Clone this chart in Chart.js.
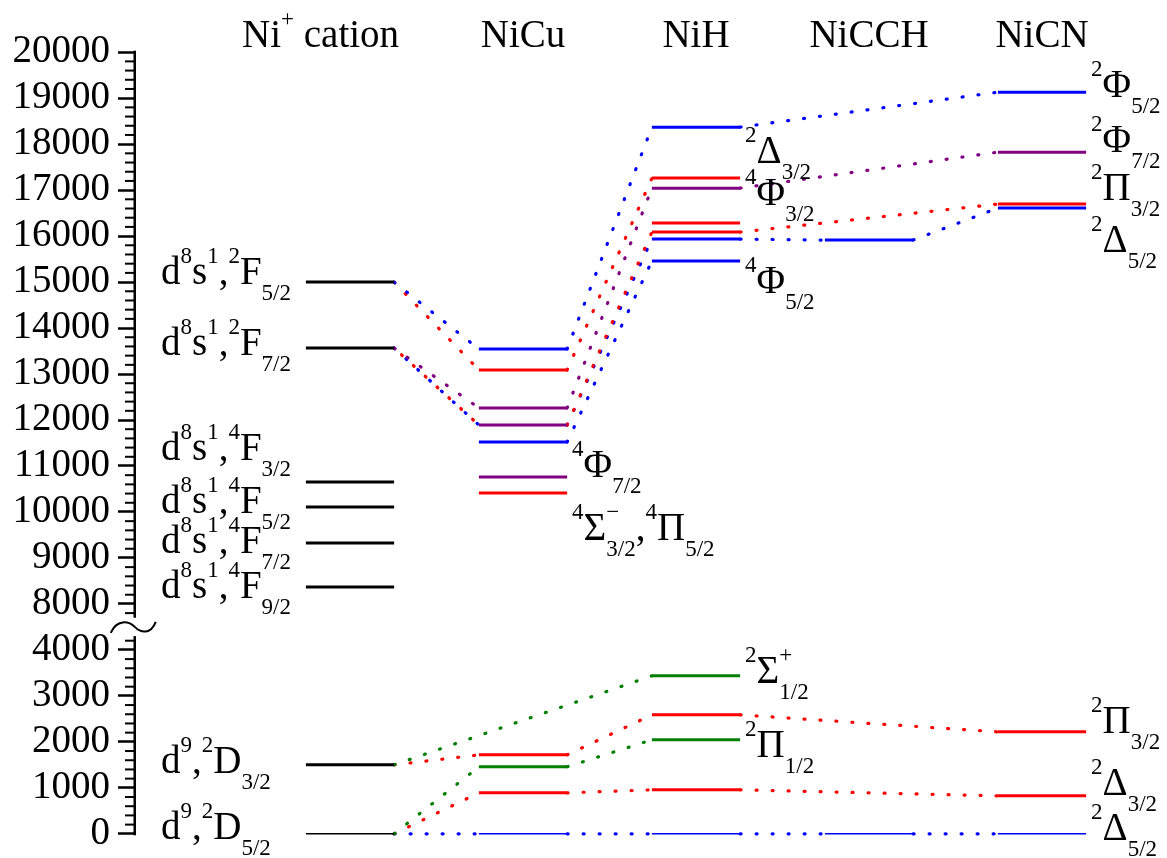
<!DOCTYPE html>
<html>
<head>
<meta charset="utf-8">
<script src="https://cdn.jsdelivr.net/npm/chart.js@4.4.1/dist/chart.umd.min.js"></script>
<style>
  html, body { margin: 0; padding: 0; background: #ffffff; }
  #c { display: block; }
</style>
</head>
<body>
<canvas id="c" width="1167" height="858"></canvas>
<script>
// ---------------------------------------------------------------
// Term energies (cm^-1) and Omega of each level, per species
// ---------------------------------------------------------------
const species = ['Ni^{+} cation', 'NiCu', 'NiH', 'NiCCH', 'NiCN'];

const cationTerms  = [15000, 13565, 10652, 10109, 9326, 8370, 1500, 0];
const cationLabels = ['d^{8}s^{1},^{2}F_{5/2}', 'd^{8}s^{1},^{2}F_{7/2}', 'd^{8}s^{1},^{4}F_{3/2}',
                      'd^{8}s^{1},^{4}F_{5/2}', 'd^{8}s^{1},^{4}F_{7/2}', 'd^{8}s^{1},^{4}F_{9/2}',
                      'd^{9},^{2}D_{3/2}', 'd^{9},^{2}D_{5/2}'];

const nicuTerms  = [13543, 13087, 12261, 11891, 11522, 10761, 10413, 1717, 1457, 891, 0];
const nicuOmega  = ['5/2', '3/2', '7/2', '7/2', '5/2', '7/2', '3/2', '3/2', '1/2', '3/2', '5/2'];

const nihTerms   = [18370, 17261, 17043, 16283, 16087, 15935, 15457, 3435, 2587, 2043, 957, 0];
const nihOmega   = ['5/2', '3/2', '7/2', '3/2', '3/2', '5/2', '5/2', '1/2', '3/2', '1/2', '3/2', '5/2'];

const nicchTerms = [15913, 0];
const nicchOmega = ['5/2', '5/2'];

const nicnTerms  = [19130, 17826, 16696, 16609, 2217, 826, 0];
const nicnOmega  = ['5/2', '7/2', '3/2', '5/2', '3/2', '3/2', '5/2'];

// correlation lines: [from column, from energy, to column, to energy, Omega]
const correlations = [
  [0, 15000, 1, 13543, '5/2'], [0, 15000, 1, 13087, '3/2'],
  [0, 13565, 1, 12261, '7/2'], [0, 13565, 1, 11891, '5/2'], [0, 13565, 1, 11891, '3/2'],
  [1, 13543, 2, 18370, '5/2'], [1, 13087, 2, 17261, '3/2'], [1, 12261, 2, 17043, '7/2'],
  [1, 11891, 2, 16087, '3/2'], [1, 11891, 2, 15935, '5/2'], [1, 11522, 2, 15457, '5/2'],
  [2, 18370, 4, 19130, '5/2'], [2, 17043, 4, 17826, '7/2'], [2, 16087, 4, 16696, '3/2'],
  [2, 15935, 3, 15913, '5/2'], [3, 15913, 4, 16609, '5/2'],
  [0, 1500, 2, 3435, '1/2'], [0, 1500, 1, 1717, '3/2'],
  [0, 0, 1, 1457, '1/2'], [0, 0, 1, 891, '3/2'], [0, 0, 1, 0, '5/2'],
  [1, 1717, 2, 2587, '3/2'], [1, 1457, 2, 2043, '1/2'], [1, 891, 2, 957, '3/2'], [1, 0, 2, 0, '5/2'],
  [2, 2587, 4, 2217, '3/2'], [2, 957, 4, 826, '3/2'], [2, 0, 3, 0, '5/2'], [3, 0, 4, 0, '5/2']
];

// state labels to the right of levels: [column, energy, text]
const stateLabels = [
  [1, 11522, '^{4}Φ_{7/2}'],
  [1, 10413, '^{4}Σ^{−}_{3/2},^{4}Π_{5/2}'],
  [2, 18370, '^{2}Δ_{3/2}'],
  [2, 17261, '^{4}Φ_{3/2}'],
  [2, 15457, '^{4}Φ_{5/2}'],
  [2, 3435,  '^{2}Σ^{+}_{1/2}'],
  [2, 2043,  '^{2}Π_{1/2}'],
  [4, 19130, '^{2}Φ_{5/2}'],
  [4, 17826, '^{2}Φ_{7/2}'],
  [4, 16696, '^{2}Π_{3/2}'],
  [4, 16609, '^{2}Δ_{5/2}'],
  [4, 2217,  '^{2}Π_{3/2}'],
  [4, 826,   '^{2}Δ_{3/2}'],
  [4, 0,     '^{2}Δ_{5/2}']
];

const majorTicks = [0, 1000, 2000, 3000, 4000, 8000, 9000, 10000, 11000, 12000,
                    13000, 14000, 15000, 16000, 17000, 18000, 19000, 20000];

// ---------------------------------------------------------------
// Layout and style
// ---------------------------------------------------------------
const OMEGA_COLOR = { '1/2': '#008000', '3/2': '#ff0000', '5/2': '#0000ff', '7/2': '#800080', 'cation': '#000000' };
const COL_HALF = 0.255;                 // half width of a level bar (column units)
const X_MIN = -1.2486, X_MAX = 4.7225;  // column 0..4 centred under the headers
const HEADER_SHIFT = [-0.17, 0, 0, 0, 0];
const HEADER_BASELINE = 47;
const CATION_LABEL_X = 161;
const CATION_LABEL_DY = [2, 7, -22, 6, 10, 11, 8, 5];
const STATE_LABEL_DY = [35, 47, 36, 27, 32, 7, 17, 5, 0, -4, 44, 1, -1, 6];
const SERIF = "'Liberation Serif', 'Times New Roman', serif";
const MAIN_FONT = '39px ' + SERIF;
const SMALL_FONT = '23px ' + SERIF;
const SUP_DY = -21, SUB_DY = 16;

// broken energy axis: 4000..8000 is squeezed into 1000 units
const BREAK_LO = 4000, BREAK_HI = 8000, BREAK_KEEP = 1000;
const CUT = BREAK_HI - BREAK_LO - BREAK_KEEP;
const toAxis = E => (E <= BREAK_LO ? E : E - CUT);
const fromAxis = v => (v <= BREAK_LO ? v : v + CUT);

// ---------------------------------------------------------------
// Datasets
// ---------------------------------------------------------------
function levelSet(col, E, color) {
  return {
    data: [{ x: col - COL_HALF, y: toAxis(E) }, { x: col + COL_HALF, y: toAxis(E) }],
    borderColor: color, backgroundColor: color,
    borderWidth: E === 0 ? 1.6 : 3, showLine: true, pointRadius: 0, borderCapStyle: 'butt'
  };
}
const datasets = [];
cationTerms.forEach(E => datasets.push(levelSet(0, E, OMEGA_COLOR.cation)));
nicuTerms.forEach((E, i) => datasets.push(levelSet(1, E, OMEGA_COLOR[nicuOmega[i]])));
nihTerms.forEach((E, i) => datasets.push(levelSet(2, E, OMEGA_COLOR[nihOmega[i]])));
nicchTerms.forEach((E, i) => datasets.push(levelSet(3, E, OMEGA_COLOR[nicchOmega[i]])));
nicnTerms.forEach((E, i) => datasets.push(levelSet(4, E, OMEGA_COLOR[nicnOmega[i]])));

const seen = {};
correlations.forEach(([c1, E1, c2, E2, om]) => {
  const key = c1 + ':' + E1 + ':' + c2 + ':' + E2;
  seen[key] = (seen[key] || 0) + 1;
  const color = OMEGA_COLOR[om];
  datasets.push({
    data: [{ x: c1 + COL_HALF, y: toAxis(E1) }, { x: c2 - COL_HALF, y: toAxis(E2) }],
    borderColor: color, backgroundColor: color,
    borderWidth: 3.2, borderDash: [1, 15], borderDashOffset: (seen[key] - 1) * 6,
    borderCapStyle: 'round', showLine: true, pointRadius: 0
  });
});

// ---------------------------------------------------------------
// Rich text (super/subscripts) helpers
// ---------------------------------------------------------------
function parseRich(s) {
  const out = [];
  let i = 0;
  const isMark = k => (s[k] === '^' || s[k] === '_') && s[k + 1] === '{';
  while (i < s.length) {
    if (isMark(i)) {
      const j = s.indexOf('}', i);
      out.push({ t: s.slice(i + 2, j), k: s[i] === '^' ? 'sup' : 'sub' });
      i = j + 1;
    } else {
      let j = i;
      while (j < s.length && !isMark(j)) j++;
      out.push({ t: s.slice(i, j), k: 'n' });
      i = j;
    }
  }
  return out;
}
function layoutRich(ctx, s) {
  const items = [];
  let x = 0, lastSup = null;
  parseRich(s).forEach(p => {
    const font = p.k === 'n' ? MAIN_FONT : SMALL_FONT;
    ctx.font = font;
    const w = ctx.measureText(p.t).width;
    if (p.k === 'sub' && lastSup) {
      items.push({ t: p.t, font, x: lastSup.x, dy: SUB_DY });
      x = Math.max(lastSup.x + lastSup.w, lastSup.x + w);
      lastSup = null;
      return;
    }
    items.push({ t: p.t, font, x, dy: p.k === 'sup' ? SUP_DY : (p.k === 'sub' ? SUB_DY : 0) });
    lastSup = p.k === 'sup' ? { x, w } : null;
    x += w;
  });
  return { items, width: x };
}
function drawRich(ctx, s, x, y, align) {
  const L = layoutRich(ctx, s);
  const x0 = align === 'center' ? x - L.width / 2 : x;
  ctx.textAlign = 'left';
  ctx.textBaseline = 'alphabetic';
  ctx.fillStyle = '#000';
  L.items.forEach(it => { ctx.font = it.font; ctx.fillText(it.t, x0 + it.x, y + it.dy); });
}

// ---------------------------------------------------------------
// Broken axis line, minor ticks, headers and term labels
// ---------------------------------------------------------------
const decorations = {
  id: 'decorations',
  afterDraw(chart) {
    const { ctx, scales: { x, y }, chartArea } = chart;
    const left = chartArea.left;
    ctx.save();
    ctx.setLineDash([]);
    ctx.fillStyle = '#000';
    ctx.strokeStyle = '#000';
    ctx.lineCap = 'butt';

    // axis line in two pieces around the break (axis units, not energies)
    const pBottom = y.getPixelForValue(0) + 1.5;
    const pLowTop = y.getPixelForValue(4300);
    const pHighBottom = y.getPixelForValue(4700);
    const pTop = y.getPixelForValue(toAxis(20000)) - 1.5;
    ctx.fillRect(left - 0.5, pLowTop, 2.5, pBottom - pLowTop);
    ctx.fillRect(left - 0.5, pTop, 2.5, pHighBottom - pTop);

    // minor ticks every 200
    const minorAxis = [];
    for (let E = 200; E <= 4200; E += 200) if (E % 1000) minorAxis.push(E);
    for (let E = 7800; E < 20000; E += 200) if (E % 1000) minorAxis.push(toAxis(E));
    minorAxis.forEach(v => {
      const py = y.getPixelForValue(v);
      ctx.fillRect(left - 9, py - 1, 10, 2);
    });

    // break mark
    const yb = (pLowTop + pHighBottom) / 2;
    const ax = left + 0.75;
    ctx.lineWidth = 2;
    ctx.beginPath();
    ctx.moveTo(ax - 24, yb + 6);
    ctx.bezierCurveTo(ax - 18, yb - 8, ax - 6, yb - 6, ax, yb);
    ctx.bezierCurveTo(ax + 6, yb + 6, ax + 16, yb + 8, ax + 21, yb - 5);
    ctx.stroke();

    // species headers
    species.forEach((name, i) => drawRich(ctx, name, x.getPixelForValue(i + HEADER_SHIFT[i]), HEADER_BASELINE, 'center'));

    // Ni+ term labels
    cationTerms.forEach((E, i) => {
      drawRich(ctx, cationLabels[i], CATION_LABEL_X, y.getPixelForValue(toAxis(E)) + CATION_LABEL_DY[i], 'left');
    });

    // molecular state labels
    stateLabels.forEach(([c, E, txt], i) => {
      const px = x.getPixelForValue(c + COL_HALF) + 5;
      drawRich(ctx, txt, px, y.getPixelForValue(toAxis(E)) + STATE_LABEL_DY[i], 'left');
    });
    ctx.restore();
  }
};

new Chart(document.getElementById('c'), {
  type: 'scatter',
  data: { datasets },
  plugins: [decorations],
  options: {
    responsive: false,
    animation: false,
    events: [],
    layout: { padding: { top: 20, bottom: 15, left: 0, right: 0 } },
    plugins: { legend: { display: false }, tooltip: { enabled: false } },
    scales: {
      x: { type: 'linear', min: X_MIN, max: X_MAX, display: false },
      y: {
        type: 'linear', min: -200, max: 17700,
        afterBuildTicks: s => { s.ticks = majorTicks.map(E => ({ value: toAxis(E) })); },
        afterFit: s => { s.width = 134; s.paddingTop = 0; s.paddingBottom = 0; },
        ticks: {
          callback: v => String(fromAxis(v)),
          color: '#000', font: { family: SERIF, size: 39 }, padding: 8,
          autoSkip: false, maxRotation: 0
        },
        grid: { drawOnChartArea: false, drawTicks: true, tickLength: 16, tickWidth: 2.5, tickColor: '#000' },
        border: { display: false }
      }
    }
  }
});
</script>
</body>
</html>
